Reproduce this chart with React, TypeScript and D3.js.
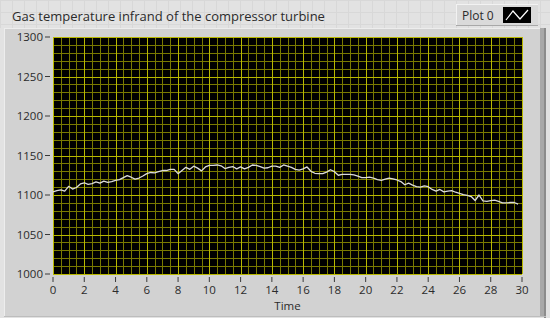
import { useMemo } from "react"
import * as d3 from "d3"

// time step of the samples (s)
const DT = 0.25

const temperature = [
  1104, 1105.5, 1106.5, 1105, 1111, 1107.5, 1109.5, 1114, 1115.5, 1113.5,
  1114.5, 1116.5, 1115, 1117.5, 1116, 1117, 1118.5, 1119.5, 1122, 1124.5,
  1122.5, 1120, 1121.5, 1124, 1127, 1128.5, 1128, 1129.5, 1131, 1131,
  1132.5, 1132.5, 1127, 1131, 1135, 1132.5, 1136.5, 1134, 1130.5, 1135.5,
  1137.5, 1137.5, 1138, 1137, 1133.5, 1135, 1136, 1133, 1135.5, 1133,
  1135, 1138, 1137.5, 1136, 1134, 1134.5, 1136.5, 1136.5, 1135, 1138,
  1136.5, 1135, 1132.5, 1131.6, 1133, 1135.5, 1130, 1127.5, 1127, 1127,
  1129, 1132, 1129.5, 1125, 1126, 1126, 1126, 1125.5, 1124, 1122,
  1122, 1122.5, 1121.5, 1119.5, 1118.5, 1120, 1121.5, 1120.5, 1119, 1117,
  1113, 1115, 1112.5, 1110.5, 1110, 1111.5, 1110.5, 1107, 1105, 1107,
  1104, 1105, 1105.5, 1103.5, 1102, 1100.5, 1099.5, 1098, 1093, 1100,
  1092.5, 1092, 1093, 1093.5, 1092, 1090, 1090, 1090.5, 1090.5, 1088.5,
]

const xTicks = [0, 2, 4, 6, 8, 10, 12, 14, 16, 18, 20, 22, 24, 26, 28, 30]
const yTicks = [1000, 1050, 1100, 1150, 1200, 1250, 1300]

const title = "Gas temperature infrand of the compressor turbine"
const xTitle = "Time"
const legendLabel = "Plot 0"

export default function App() {
  const width = 550
  const height = 318
  const plot = { left: 53, right: 522, top: 37, bottom: 274 }

  const x = useMemo(
    () => d3.scaleLinear().domain([0, 30]).range([plot.left, plot.right]),
    []
  )
  const y = useMemo(
    () => d3.scaleLinear().domain([1000, 1300]).range([plot.bottom, plot.top]),
    []
  )

  const line = d3
    .line<number>()
    .x((_, i) => x(i * DT))
    .y((d) => y(d))

  const xMinor = d3.range(0, 30.001, 0.5).filter((t) => t % 2 !== 0)
  const yMinor = d3.range(1000, 1300.001, 10).filter((v) => v % 50 !== 0)

  const font = "'Open Sans', 'Noto Sans', sans-serif"
  const textColor = "#2b2b2b"
  const majorColor = "#b8b800"
  const minorColor = "#7a7a00"

  // faint panel grid in the title strip
  const panelGrid = d3.range(0, width, 12)

  return (
    <svg
      width={width}
      height={height}
      viewBox={`0 0 ${width} ${height}`}
      style={{ position: "absolute", left: 0, top: 0, display: "block" }}
    >
      {/* background */}
      <rect x={0} y={0} width={width} height={height} fill="#e2e2e2" />
      {panelGrid.map((g) => (
        <line key={`pg${g}`} x1={g + 0.5} x2={g + 0.5} y1={0} y2={28} stroke="#d8d8d8" />
      ))}
      {d3.range(0, 28, 12).map((g) => (
        <line key={`ph${g}`} x1={0} x2={width} y1={g + 0.5} y2={g + 0.5} stroke="#d8d8d8" />
      ))}

      {/* chart frame */}
      <rect x={4} y={28} width={540} height={288} fill="#d2d2d2" />
      <line x1={4} x2={544} y1={28.5} y2={28.5} stroke="#ededed" />
      <line x1={4.5} x2={4.5} y1={28} y2={316} stroke="#ededed" />
      <rect x={540} y={28} width={4} height={288} fill="#a9a9a9" />
      <rect x={544} y={28} width={2} height={290} fill="#8c8c8c" />
      <line x1={4} x2={546} y1={316.5} y2={316.5} stroke="#bdbdbd" />

      {/* title */}
      <text x={12} y={21} fontFamily={font} fontSize={13} fill={textColor}>
        {title}
      </text>

      {/* legend */}
      <rect x={456} y={4} width={82} height={22} fill="#dadada" />
      <line x1={456} x2={538} y1={4.5} y2={4.5} stroke="#f2f2f2" />
      <line x1={456.5} x2={456.5} y1={4} y2={26} stroke="#f2f2f2" />
      <line x1={456} x2={538} y1={25.5} y2={25.5} stroke="#a8a8a8" />
      <text x={462} y={20} fontFamily={font} fontSize={12} fill={textColor}>
        {legendLabel}
      </text>
      <rect x={503} y={7} width={28} height={16} fill="#000" />
      <polyline
        points="506,20 513,11 520,19 528,10"
        fill="none"
        stroke="#ffffff"
        strokeWidth={1.2}
      />

      {/* plot area */}
      <rect
        x={plot.left}
        y={plot.top}
        width={plot.right - plot.left}
        height={plot.bottom - plot.top}
        fill="#000"
      />
      <g shapeRendering="crispEdges">
        {xMinor.map((t) => (
          <line
            key={`xm${t}`}
            x1={Math.round(x(t)) + 0.5}
            x2={Math.round(x(t)) + 0.5}
            y1={plot.top}
            y2={plot.bottom}
            stroke={minorColor}
          />
        ))}
        {yMinor.map((v) => (
          <line
            key={`ym${v}`}
            x1={plot.left}
            x2={plot.right}
            y1={Math.round(y(v)) + 0.5}
            y2={Math.round(y(v)) + 0.5}
            stroke={minorColor}
          />
        ))}
        {xTicks.map((t) => (
          <line
            key={`xM${t}`}
            x1={Math.round(x(t)) + 0.5}
            x2={Math.round(x(t)) + 0.5}
            y1={plot.top}
            y2={plot.bottom}
            stroke={majorColor}
          />
        ))}
        {yTicks.map((v) => (
          <line
            key={`yM${v}`}
            x1={plot.left}
            x2={plot.right}
            y1={Math.round(y(v)) + 0.5}
            y2={Math.round(y(v)) + 0.5}
            stroke={majorColor}
          />
        ))}
      </g>

      {/* series */}
      <path
        d={line(temperature) ?? ""}
        fill="none"
        stroke="#dcdcdc"
        strokeWidth={1.3}
        strokeLinejoin="round"
      />

      {/* y axis */}
      {yTicks.map((v) => (
        <g key={`yt${v}`} transform={`translate(0,${y(v)})`}>
          <line x1={45} x2={50} stroke="#3a3a3a" />
          <text
            x={43}
            dy="0.35em"
            textAnchor="end"
            fontFamily={font}
            fontSize={11.5}
            fill={textColor}
          >
            {v}
          </text>
        </g>
      ))}

      {/* x axis */}
      {xTicks.map((t) => (
        <g key={`xt${t}`} transform={`translate(${x(t)},0)`}>
          <line y1={277} y2={282} stroke="#3a3a3a" />
          <text
            y={294}
            textAnchor="middle"
            fontFamily={font}
            fontSize={11.5}
            fill={textColor}
          >
            {t}
          </text>
        </g>
      ))}
      <text
        x={(plot.left + plot.right) / 2}
        y={310}
        textAnchor="middle"
        fontFamily={font}
        fontSize={11.5}
        fill={textColor}
      >
        {xTitle}
      </text>
    </svg>
  )
}
